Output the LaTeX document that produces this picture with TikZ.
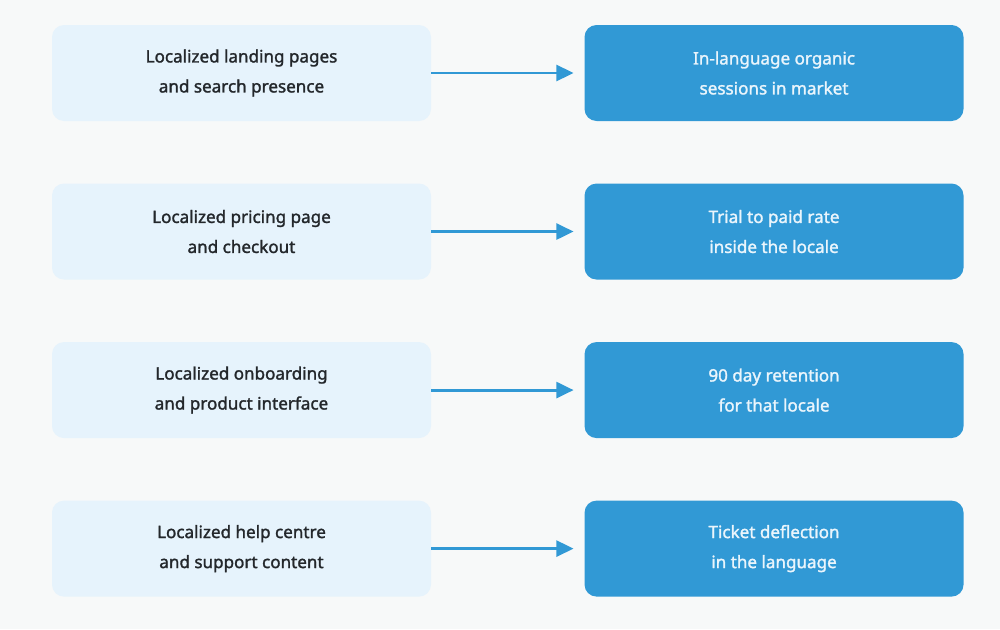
\documentclass[tikz,border=0pt]{standalone}
\usepackage{fontspec}
\setmainfont{Noto Sans}[AutoFakeBold=1.6]
\usepackage{tikz}
\usetikzlibrary{arrows.meta, positioning}
\definecolor{pageBg}{HTML}{F7F9F9}
\definecolor{lightBlue}{HTML}{E6F3FC}
\definecolor{mainBlue}{HTML}{3199D5}
\definecolor{inkDark}{HTML}{23272B}
\definecolor{inkLight}{HTML}{EAF5FC}

\begin{document}
\begin{tikzpicture}[
    node distance=46.5pt and 114.75pt,
    font=\fontsize{12.8}{22.5}\selectfont\bfseries,
    >={Triangle[length=13pt, width=12pt]},
    % Styles
    lever/.style={
        fill=lightBlue, text=inkDark, rounded corners=9pt, align=center,
        minimum width=284.25pt, minimum height=72pt
    },
    outcome/.style={
        fill=mainBlue, text=inkLight, rounded corners=9pt, align=center,
        minimum width=284.25pt, minimum height=72pt
    },
    link/.style={
        ->, draw=mainBlue, line width=2.2pt, shorten >=8pt
    }
]

    % background and page size
    \fill[pageBg] (0,0) rectangle (750pt,-471.75pt);
    \useasboundingbox (0,0) rectangle (750pt,-471.75pt);

    % --- left column: what gets localized ---
    \node[lever] (l1) at (181.125pt,-54.75pt) {Localized landing pages\\and search presence};
    \node[lever, below=of l1] (l2) {Localized pricing page\\and checkout};
    \node[lever, below=of l2] (l3) {Localized onboarding\\and product interface};
    \node[lever, below=of l3] (l4) {Localized help centre\\and support content};

    % --- right column: what to measure ---
    \node[outcome, right=of l1] (r1) {In-language organic\\sessions in market};
    \node[outcome, right=of l2] (r2) {Trial to paid rate\\inside the locale};
    \node[outcome, right=of l3] (r3) {90 day retention\\for that locale};
    \node[outcome, right=of l4] (r4) {Ticket deflection\\in the language};

    % --- arrows ---
    \foreach \i in {1,...,4}
        \draw[link] (l\i) -- (r\i);

\end{tikzpicture}
\end{document}
